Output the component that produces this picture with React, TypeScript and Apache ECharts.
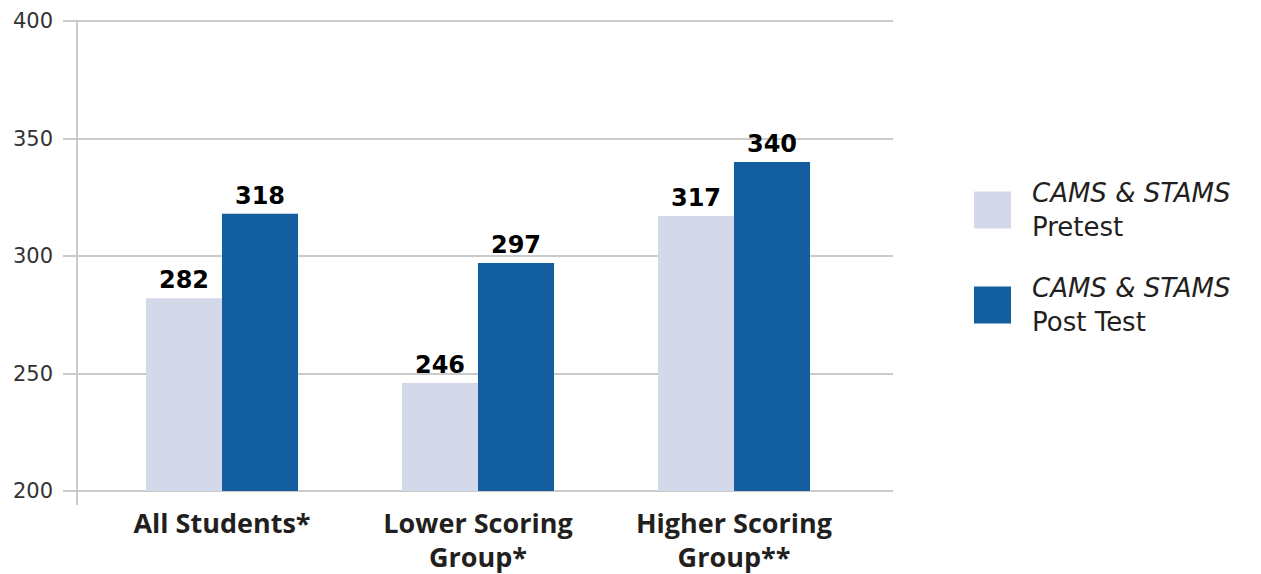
import React, { useEffect, useRef } from "react";
import * as echarts from "echarts";

// Mean scale scores by group
const categories = ["All Students*", "Lower Scoring\nGroup*", "Higher Scoring\nGroup**"];
const programName = "CAMS & STAMS";
const phases = ["Pretest", "Post Test"];
const pretestScores = [282, 246, 317];
const postTestScores = [318, 297, 340];
const yTicks = { min: 200, max: 400, interval: 50 };

const PRE_COLOR = "#d3d9e8";
const POST_COLOR = "#125e9e";
const GRID_COLOR = "#cbcbcb";
const TEXT_COLOR = "#231f20";
const SANS = "Open Sans";
const WIDE = "DejaVu Sans";

export default function App() {
  const ref = useRef<HTMLDivElement>(null);

  useEffect(() => {
    if (!ref.current) return;
    const chart = echarts.init(ref.current, undefined, { renderer: "svg" });

    const valueLabel = {
      show: true,
      position: "top",
      distance: 6,
      color: "#000",
      fontFamily: WIDE,
      fontWeight: "bold",
      fontSize: 24,
    };

    const legendLine = {
      fontFamily: WIDE,
      fontSize: 26,
      lineHeight: 34,
      color: TEXT_COLOR,
      padding: [0, 0, 0, 16],
    };

    chart.setOption({
      animation: false,
      backgroundColor: "#fff",
      grid: [
        // frame: gridlines, value labels, axis line
        { left: 77, right: 368, top: 21, bottom: 83 },
        // bars
        { left: 94, right: 399, top: 21, bottom: 83 },
      ],
      xAxis: [
        {
          gridIndex: 0,
          type: "value",
          min: 0,
          max: 1,
          interval: 1,
          axisLine: { show: false },
          axisLabel: { show: false },
          splitLine: { show: false },
          axisTick: {
            show: true,
            customValues: [0],
            length: 14,
            lineStyle: { color: GRID_COLOR, width: 2 },
          },
        },
        {
          gridIndex: 1,
          type: "category",
          data: categories,
          axisLine: { show: false },
          axisTick: { show: false },
          axisLabel: {
            margin: 14,
            color: TEXT_COLOR,
            fontFamily: SANS,
            fontWeight: "bold",
            fontSize: 27,
            lineHeight: 34,
            interval: 0,
          },
        },
      ],
      yAxis: [
        {
          gridIndex: 0,
          type: "value",
          min: yTicks.min,
          max: yTicks.max,
          interval: yTicks.interval,
          axisLine: { show: true, lineStyle: { color: GRID_COLOR, width: 2 } },
          axisTick: { show: true, length: 14, lineStyle: { color: GRID_COLOR, width: 2 } },
          splitLine: { show: true, lineStyle: { color: GRID_COLOR, width: 2 } },
          axisLabel: {
            margin: 24,
            color: "#333",
            fontFamily: WIDE,
            fontSize: 21,
          },
        },
        {
          gridIndex: 1,
          type: "value",
          min: yTicks.min,
          max: yTicks.max,
          interval: yTicks.interval,
          show: false,
        },
      ],
      legend: {
        orient: "vertical",
        left: 969,
        top: 175,
        itemWidth: 37,
        itemHeight: 37,
        itemGap: 35,
        icon: "rect",
        data: phases,
        formatter: (name: string) => `{i|${programName}}\n{n|${name}}`,
        textStyle: {
          color: TEXT_COLOR,
          fontFamily: WIDE,
          fontSize: 26,
          rich: {
            i: { ...legendLine, fontStyle: "italic" },
            n: legendLine,
          },
        },
      },
      series: [
        {
          name: phases[0],
          type: "bar",
          xAxisIndex: 1,
          yAxisIndex: 1,
          data: pretestScores,
          barWidth: 76,
          barGap: "0%",
          itemStyle: { color: PRE_COLOR },
          label: valueLabel,
        },
        {
          name: phases[1],
          type: "bar",
          xAxisIndex: 1,
          yAxisIndex: 1,
          data: postTestScores,
          barWidth: 76,
          barGap: "0%",
          itemStyle: { color: POST_COLOR },
          label: valueLabel,
        },
      ],
    });

    return () => chart.dispose();
  }, []);

  return (
    <div
      ref={ref}
      style={{ position: "fixed", left: 0, top: 0, width: 1261, height: 574 }}
    />
  );
}
